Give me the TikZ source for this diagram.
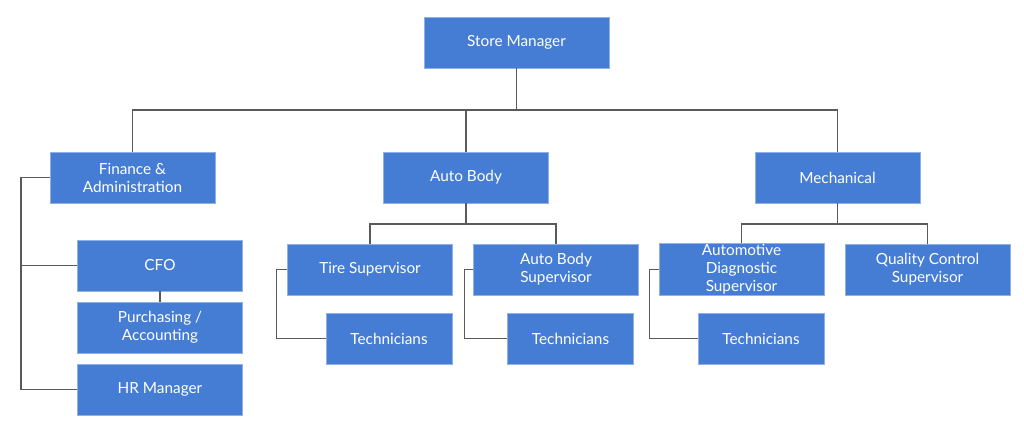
\documentclass[tikz,border=0pt]{standalone}
\usepackage{fontspec}
\setmainfont{Lato}
\usepackage{tikz}
\usetikzlibrary{positioning}

\definecolor{boxblue}{RGB}{70,125,212}
\definecolor{linegray}{RGB}{90,90,90}

\begin{document}
\begin{tikzpicture}[x=0.75pt,y=0.75pt,yscale=-1,xscale=1,
  unit/.style={draw=boxblue!60!white,fill=boxblue,text=white,inner sep=0.75pt,
    minimum width=123.75pt,minimum height=38.25pt,align=center,
    font=\fontsize{11.5}{13.5}\selectfont},
  techbox/.style={unit,minimum width=94.5pt},
  link/.style={draw=linegray,line width=1pt}]
\useasboundingbox (0,0) rectangle (1024,438);

%Top
\node [unit,minimum width=138.75pt] (store) at (516.5,42.5) {Store Manager};

%Departments
\node [unit] (finance) at (132.5,177.5) {Finance \&\\Administration};
\node [unit] (autobody) at (466,177.5) {Auto Body};
\node [unit] (mechanical) at (837.5,177.5) {Mechanical};

%Finance staff
\node [unit] (cfo) at (160,265.5) {CFO};
\node [unit] (purchasing) at (160,327.5) {Purchasing /\\Accounting};
\node [unit] (hr) at (160,389.5) {HR Manager};

%Auto body staff
\node [unit] (tire) at (370,269.5) {Tire Supervisor};
\node [unit] (abodysup) at (556,269.5) {Auto Body\\Supervisor};
\node [techbox] (techtire) at (389,338.5) {Technicians};
\node [techbox] (techbody) at (570.5,338.5) {Technicians};

%Mechanical staff
\node [unit] (diag) at (741.5,269.5) {Automotive\\Diagnostic\\Supervisor};
\node [unit] (quality) at (927.5,269.5) {Quality Control\\Supervisor};
\node [techbox] (techdiag) at (761,338.5) {Technicians};

%Connectors
\coordinate (topbus) at (516.5,110);
\draw [link] (store.south) -- (topbus) -| (finance.north);
\draw [link] (topbus) -| (autobody.north);
\draw [link] (topbus) -| (mechanical.north);

\coordinate (finbus) at (21,177.5);
\draw [link] (finance.west) -- (finbus) |- (hr.west);
\draw [link] (cfo.west) -- (cfo.west -| finbus);
\draw [link] (cfo.south) -- (purchasing.north);

\coordinate (abbus) at (466,224);
\draw [link] (autobody.south) -- (abbus) -| (tire.north);
\draw [link] (abbus) -| (abodysup.north);
\draw [link] (tire.west) -- ++(-11,0) |- (techtire.west);
\draw [link] (abodysup.west) -- ++(-9,0) |- (techbody.west);

\coordinate (mechbus) at (837.5,224);
\draw [link] (mechanical.south) -- (mechbus) -| (diag.north);
\draw [link] (mechbus) -| (quality.north);
\draw [link] (diag.west) -- ++(-9,0) |- (techdiag.west);

\end{tikzpicture}
\end{document}
